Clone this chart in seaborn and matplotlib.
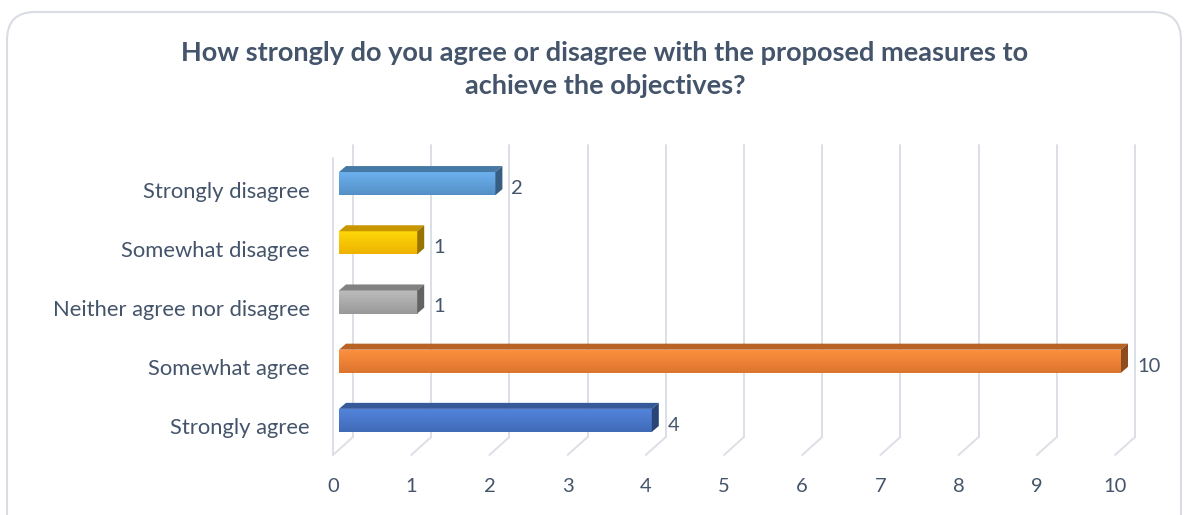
import matplotlib
matplotlib.use("Agg")
import matplotlib.pyplot as plt
import seaborn as sns
import pandas as pd
import numpy as np
from matplotlib.patches import Polygon, FancyBboxPatch
from matplotlib.lines import Line2D
from matplotlib.transforms import IdentityTransform, ScaledTranslation
import matplotlib.colors as mcolors

categories = ["Strongly disagree", "Somewhat disagree", "Neither agree nor disagree",
              "Somewhat agree", "Strongly agree"]
values = [2, 1, 1, 10, 4]
colors = ["#5B9BD5", "#FFC000", "#A5A5A5", "#ED7D31", "#4472C4"]
xticks = list(range(0, 11))
title = "How strongly do you agree or disagree with the proposed measures to\nachieve the objectives?"

TXT = "#44546A"
W, H = 1195, 515
sns.set_theme(style="white")
plt.rcParams["font.family"] = ["Lato", "DejaVu Sans"]

fig = plt.figure(figsize=(W / 100, H / 100), dpi=100)
# axes: x 0 at px 339, 78.2 px per unit; y top 154, bottom 450
left, right = 339, 339 + 10.3 * 78.2
top, bottom = 154, 450
ax = fig.add_axes([left / W, 1 - bottom / H, (right - left) / W, (bottom - top) / H])
ax.patch.set_visible(False)

df = pd.DataFrame({"cat": categories, "val": values})
sns.barplot(data=df, y="cat", x="val", hue="cat", palette=colors, orient="h",
            width=0.39, ax=ax, legend=False, saturation=1)
ax.set_xlim(0, 10.3)
ax.set_ylim(4.5, -0.5)
for s in ax.spines.values():
    s.set_visible(False)
ax.set_xlabel("")
ax.set_ylabel("")
ax.set_xticks(xticks)
ax.set_xticklabels([str(t) for t in xticks], fontsize=14.5, color=TXT)
ax.tick_params(axis="x", length=0, pad=20)
ax.tick_params(axis="y", length=0, pad=21)
for lab in ax.get_yticklabels():
    lab.set_fontsize(15.8)
    lab.set_color(TXT)
    lab.set_transform(lab.get_transform() + ScaledTranslation(0, -6 / 100, fig.dpi_scale_trans))
for lab in ax.get_xticklabels():
    lab.set_transform(lab.get_transform() + ScaledTranslation(-6 / 100, 0, fig.dpi_scale_trans))
ax.grid(False)

# 3D-like back wall gridlines
grid_c = "#DCDFE5"
fig.canvas.draw()
dx_back = 14
y_back_top, y_back_bot, y_front_bot = H - 145, H - 437, H - 455
for k in xticks:
    px = ax.transData.transform((k, 0))[0]
    bx = px + dx_back
    fig.add_artist(Line2D([bx, bx], [y_back_top, y_back_bot], transform=IdentityTransform(),
                          color=grid_c, lw=1.4, zorder=0))
    fig.add_artist(Line2D([bx, px - 6], [y_back_bot, y_front_bot], transform=IdentityTransform(),
                          color=grid_c, lw=1.4, zorder=0))
# side wall edge
px0 = ax.transData.transform((0, 0))[0]
fig.add_artist(Line2D([px0 - 6, px0 - 6], [H - 158, y_front_bot], transform=IdentityTransform(),
                      color=grid_c, lw=1.4, zorder=0))

# 3D faces for bars
ddx, ddy = 7, 6
def shade(c, f):
    r, g, b = mcolors.to_rgb(c)
    return (r * f, g * f, b * f)

for patch, col, v in zip(ax.patches, colors, values):
    bb = patch.get_window_extent()
    x0, x1, y0, y1 = bb.x0, bb.x1, bb.y0, bb.y1
    patch.set_linewidth(0)
    topf = Polygon([(x0, y1), (x0 + ddx, y1 + ddy), (x1 + ddx, y1 + ddy), (x1, y1)],
                   closed=True, transform=IdentityTransform(), facecolor=shade(col, 0.78),
                   edgecolor="none", zorder=3)
    side = Polygon([(x1, y1), (x1 + ddx, y1 + ddy), (x1 + ddx, y0 + ddy), (x1, y0)],
                   closed=True, transform=IdentityTransform(), facecolor=shade(col, 0.6),
                   edgecolor="none", zorder=3)
    fig.add_artist(topf)
    fig.add_artist(side)
    grad = np.linspace(1.0, 0.0, 50).reshape(-1, 1)
    cmap = mcolors.LinearSegmentedColormap.from_list(
        "g", [shade(col, 0.93), tuple(min(1, c * 1.08 + 0.04) for c in mcolors.to_rgb(col))])
    ext = (0, v, patch.get_y() + patch.get_height(), patch.get_y())
    im = ax.imshow(grad, extent=ext, aspect="auto", cmap=cmap, zorder=2.5,
                   interpolation="bilinear")
    im.set_clip_path(patch)
    ax.text(x1 + 16, (y0 + y1) / 2 - 5, str(v), transform=IdentityTransform(),
            fontsize=14.5, color=TXT, va="center", ha="left")
ax.set_xlim(0, 10.3)
ax.set_ylim(4.5, -0.5)

fig.text(605 / W, 1 - 70 / H, title, ha="center", va="center", fontsize=19.5,
         fontweight="bold", color=TXT, linespacing=1.45)

frame = FancyBboxPatch((7, -30), 1181 - 7, H - 12 + 30, boxstyle="round,pad=0,rounding_size=28",
                       transform=IdentityTransform(), facecolor="none", edgecolor="#D9DDE3",
                       lw=1.5, zorder=0)
fig.add_artist(frame)

fig.savefig("out.png", dpi=100)
